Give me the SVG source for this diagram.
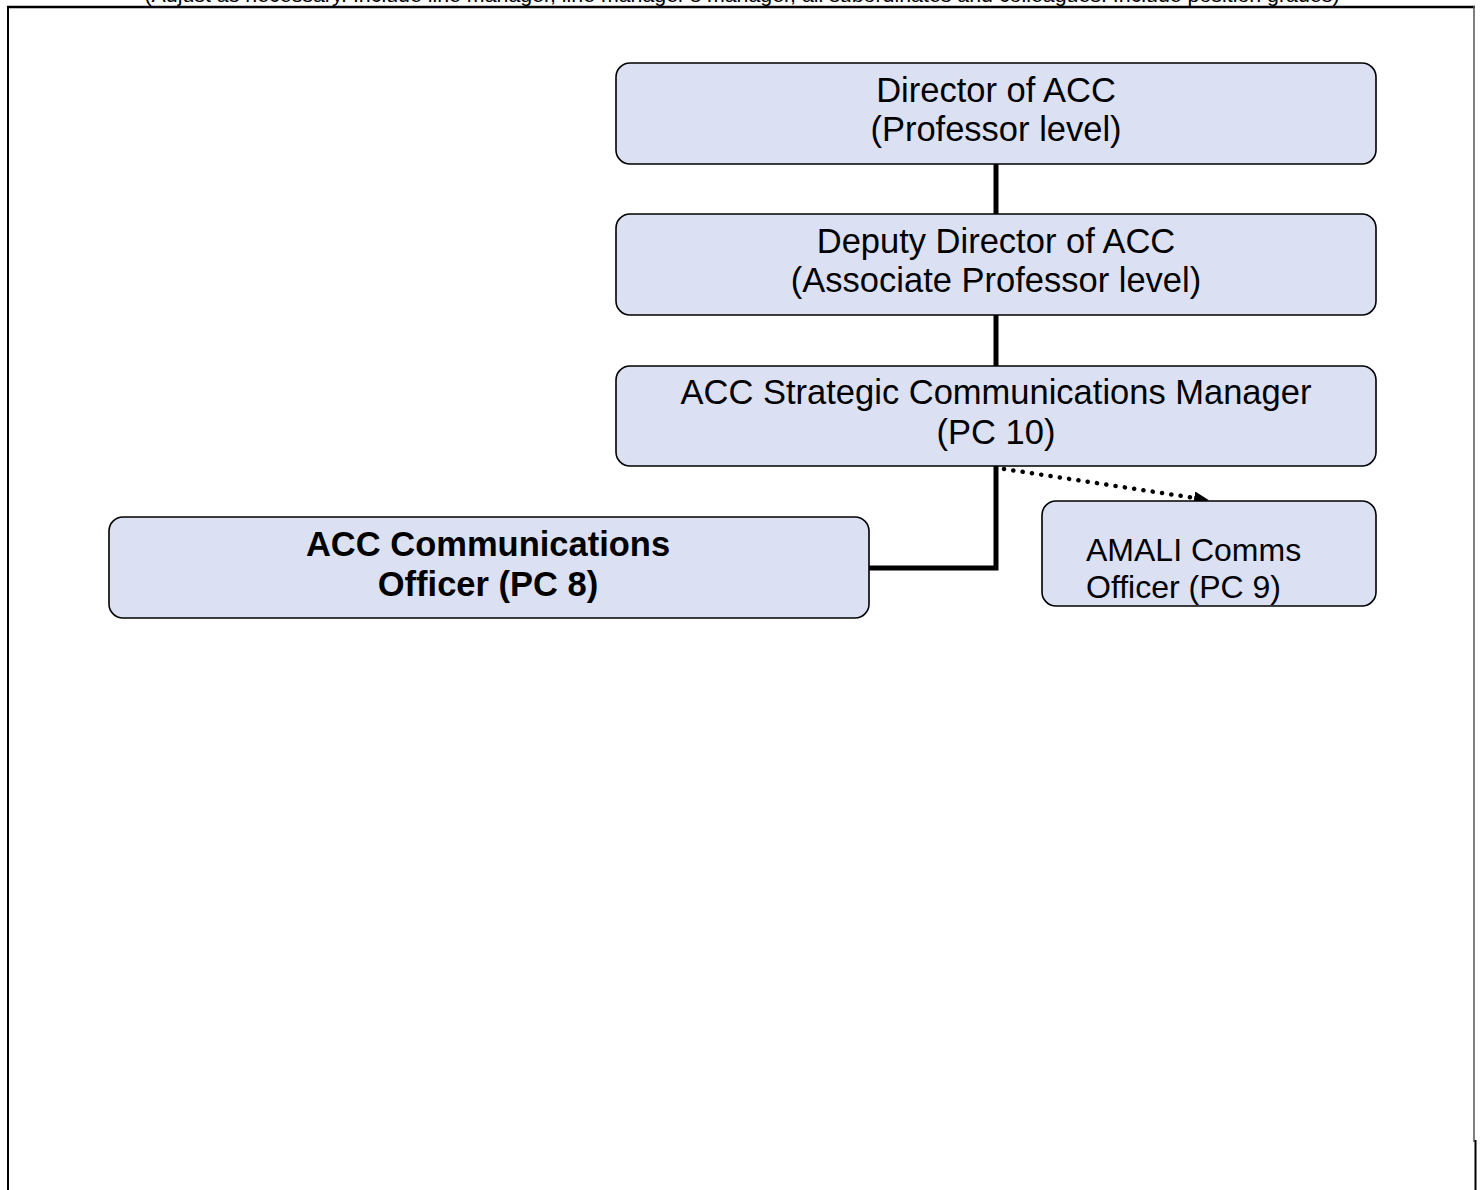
<svg xmlns="http://www.w3.org/2000/svg" width="1481" height="1190" viewBox="0 0 1481 1190">
<style>
.box{fill:#dbe1f3;stroke:#000;stroke-width:1.6}
.t{font-family:"Liberation Sans",Arial,sans-serif;font-size:34.5px;fill:#000}
.c{text-anchor:middle}
.b{font-weight:bold}
.conn{fill:none;stroke:#000;stroke-width:5}
</style>
<defs>
<marker id="arr" markerWidth="16" markerHeight="14" refX="14" refY="6.5" orient="auto" markerUnits="userSpaceOnUse">
<path d="M0,0 L15,6.5 L0,13 z" fill="#000"/>
</marker>
</defs>
<rect width="1481" height="1190" fill="#fff"/>
<g id="frame">
<text x="742" y="2" class="t c" style="font-size:20px" textLength="1195" lengthAdjust="spacingAndGlyphs">(Adjust as necessary. Include line manager, line manager’s manager, all subordinates and colleagues. Include position grades)</text>
<line x1="7" y1="7" x2="1475" y2="7" stroke="#000" stroke-width="2.5"/>
<line x1="8" y1="6" x2="8" y2="1190" stroke="#000" stroke-width="2"/>
<line x1="1474" y1="6" x2="1474" y2="1142" stroke="#555" stroke-width="1.5"/>
<line x1="1475.5" y1="1140" x2="1475.5" y2="1190" stroke="#000" stroke-width="2"/>
</g>
<g id="connectors">
<line class="conn" x1="996" y1="164" x2="996" y2="214"/>
<line class="conn" x1="996" y1="315" x2="996" y2="366"/>
<polyline class="conn" points="996,466 996,568 869,568"/>
<line x1="1004" y1="469" x2="1208" y2="500" stroke="#000" stroke-width="4.5" stroke-linecap="round" stroke-dasharray="0.1 9.3" marker-end="url(#arr)"/>
</g>
<g id="director">
<rect class="box" x="616" y="63" width="760" height="101" rx="14"/>
<text class="t c" x="996" y="102">Director of ACC</text>
<text class="t c" x="996" y="141">(Professor level)</text>
</g>
<g id="deputy">
<rect class="box" x="616" y="214" width="760" height="101" rx="14"/>
<text class="t c" x="996" y="253">Deputy Director of ACC</text>
<text class="t c" x="996" y="292">(Associate Professor level)</text>
</g>
<g id="manager">
<rect class="box" x="616" y="366" width="760" height="100" rx="14"/>
<text class="t c" x="996" y="404">ACC Strategic Communications Manager</text>
<text class="t c" x="996" y="444">(PC 10)</text>
</g>
<g id="officer">
<rect class="box" x="109" y="517" width="760" height="101" rx="14"/>
<text class="t c b" x="488" y="556">ACC Communications</text>
<text class="t c b" x="488" y="596">Officer (PC 8)</text>
</g>
<g id="amali">
<rect class="box" x="1042" y="501" width="334" height="105" rx="14"/>
<text class="t" style="font-size:32px" x="1086" y="561">AMALI Comms</text>
<text class="t" style="font-size:32px" x="1086" y="598">Officer (PC 9)</text>
</g>
</svg>
